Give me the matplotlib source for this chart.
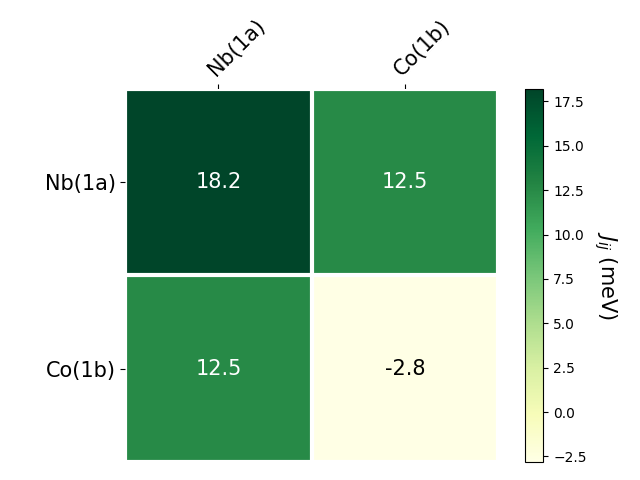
import numpy as np
import matplotlib
matplotlib.use("Agg")
import matplotlib.pyplot as plt

# Exchange couplings J_ij (meV)
sites = ["Nb(1a)", "Co(1b)"]
J = np.array([[18.2, 12.5],
              [12.5, -2.8]])

fig, ax = plt.subplots(figsize=(6.4, 4.8), dpi=100)

im = ax.imshow(J, cmap="YlGn")
cbar = fig.colorbar(im, ax=ax)
cbar.ax.set_ylabel(r"$J_{ij}$ (meV)", rotation=-90, va="bottom", fontsize=15)

ax.set_xticks(np.arange(J.shape[1]), labels=sites, fontsize=15)
ax.set_yticks(np.arange(J.shape[0]), labels=sites, fontsize=15)
ax.tick_params(top=True, bottom=False, labeltop=True, labelbottom=False)
plt.setp(ax.get_xticklabels(), rotation=45, ha="left", rotation_mode="anchor")

ax.spines[:].set_visible(False)
ax.set_xticks(np.arange(J.shape[1] + 1) - .5, minor=True)
ax.set_yticks(np.arange(J.shape[0] + 1) - .5, minor=True)
ax.grid(which="minor", color="w", linestyle="-", linewidth=3)
ax.tick_params(which="minor", bottom=False, left=False)

# annotate cells
thresh = im.norm(J.max()) / 2.
for i in range(J.shape[0]):
    for j in range(J.shape[1]):
        color = "white" if im.norm(J[i, j]) > thresh else "black"
        ax.text(j, i, f"{J[i, j]:.1f}", ha="center", va="center", color=color, fontsize=15)

fig.tight_layout()
fig.savefig("out.png")
